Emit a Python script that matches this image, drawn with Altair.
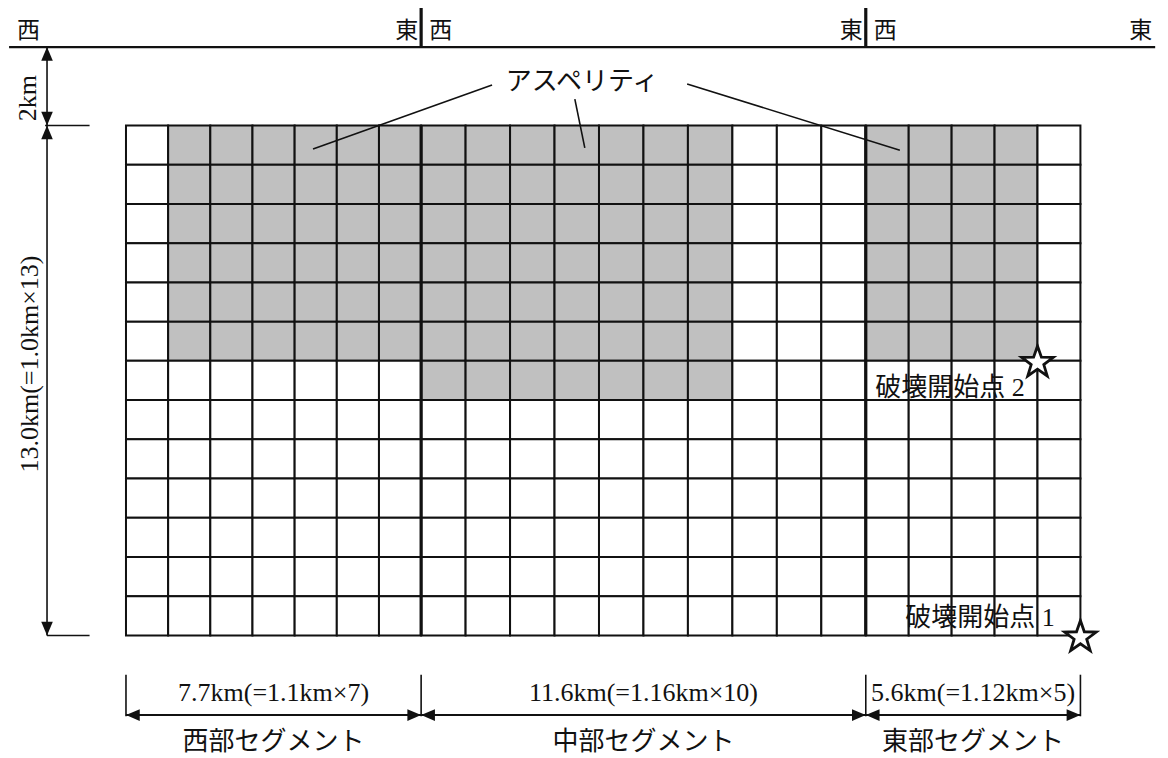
import math
import altair as alt
import pandas as pd

# ---------------- data ----------------
segment_names = ["西部セグメント", "中部セグメント", "東部セグメント"]
segment_cols = [7, 10, 5]
segment_cell_km = [1.1, 1.16, 1.12]
segment_length_labels = ["7.7km(=1.1km×7)", "11.6km(=1.16km×10)", "5.6km(=1.12km×5)"]
n_rows = 13
row_km = 1.0
top_depth_km = 2.0
asperity_col_first = [1, 0, 0]
asperity_col_last = [6, 6, 3]
asperity_rows = [6, 7, 6]
hypo_labels = ["破壊開始点 1", "破壊開始点 2"]
hypo_col_edge = [5, 4]      # column edge inside the eastern segment
hypo_row_edge = [13, 6]     # row edge from top of fault
depth_label = "13.0km(=1.0km×13)"
top_gap_label = "2km"
asperity_label = "アスペリティ"

FONT = "Liberation Serif, Noto Sans CJK JP"
INK = "#111111"

# ---------------- derived tables ----------------
bounds = [0.0]
for n, w in zip(segment_cols, segment_cell_km):
    bounds.append(round(bounds[-1] + n * w, 4))
bottom_depth = top_depth_km + n_rows * row_km

cells = []
for s, (n, w) in enumerate(zip(segment_cols, segment_cell_km)):
    for c in range(n):
        for r in range(n_rows):
            asp = asperity_col_first[s] <= c <= asperity_col_last[s] and r < asperity_rows[s]
            cells.append(dict(x=bounds[s] + c * w, x2=bounds[s] + (c + 1) * w,
                              y=top_depth_km + r * row_km, y2=top_depth_km + (r + 1) * row_km,
                              fill="#c0c0c0" if asp else "#ffffff"))
cells = pd.DataFrame(cells)

left_x = -2.06
thin_lines = pd.DataFrame([
    dict(x=-3.05, x2=26.85, y=0.0, y2=0.0, w=2.2),
    dict(x=left_x, x2=left_x, y=0.0, y2=top_depth_km, w=1.6),
    dict(x=left_x, x2=left_x, y=top_depth_km, y2=bottom_depth, w=1.6),
    dict(x=-2.11, x2=-0.95, y=top_depth_km, y2=top_depth_km, w=1.6),
    dict(x=-2.06, x2=-0.95, y=bottom_depth, y2=bottom_depth, w=1.6),
] + [
    dict(x=b, x2=b, y=16.0, y2=17.06, w=1.6) for b in bounds
] + [
    dict(x=bounds[i], x2=bounds[i + 1], y=17.03, y2=17.03, w=2.0) for i in range(3)
] + [
    dict(x=9.55, x2=4.88, y=0.97, y2=2.6, w=1.6),
    dict(x=11.71, x2=11.97, y=1.33, y2=2.57, w=1.6),
    dict(x=14.64, x2=20.19, y=0.94, y2=2.63, w=1.6),
])

thick_lines = pd.DataFrame([
    dict(x=b, x2=b, y=-1.02, y2=0.0) for b in bounds[1:3]
] + [
    dict(x=b, x2=b, y=top_depth_km, y2=bottom_depth) for b in bounds[1:3]
])

heads = [dict(x=left_x, y=0.0, a=270), dict(x=left_x, y=top_depth_km, a=90),
         dict(x=left_x, y=top_depth_km, a=270), dict(x=left_x, y=bottom_depth, a=90)]
for i in range(3):
    heads.append(dict(x=bounds[i], y=17.03, a=180))
    heads.append(dict(x=bounds[i + 1], y=17.03, a=0))
heads = pd.DataFrame(heads)

mids = [(bounds[i] + bounds[i + 1]) / 2 for i in range(3)]
texts = pd.DataFrame(
    [dict(x=m, y=16.47, t=t) for m, t in zip(mids, segment_length_labels)]
    + [dict(x=m, y=17.72, t=t) for m, t in zip(mids, segment_names)]
    + [dict(x=11.9, y=0.89, t=asperity_label),
       dict(x=21.5, y=8.69, t=hypo_labels[1]),
       dict(x=22.28, y=14.55, t=hypo_labels[0])]
)
west_labels = pd.DataFrame([dict(x=v, y=-0.41, t="西") for v in [-3.05, bounds[1], bounds[2]]])
east_labels = pd.DataFrame([dict(x=v, y=-0.41, t="東") for v in [bounds[1], bounds[2], 26.85]])
rot_texts = pd.DataFrame([dict(x=-2.56, y=1.30, t=top_gap_label),
                          dict(x=-2.50, y=8.08, t=depth_label)])

stars = pd.DataFrame([dict(x=bounds[2] + hypo_col_edge[i] * segment_cell_km[2],
                           y=top_depth_km + hypo_row_edge[i] * row_km) for i in range(2)])

# five-pointed star symbol path in the unit square
pts = []
for k in range(10):
    ang = math.radians(-90 + 36 * k)
    rad = 1.0 if k % 2 == 0 else 0.40
    pts.append(f"{rad * math.cos(ang):.3f},{rad * math.sin(ang) + 0.1:.3f}")
STAR = "M" + " L".join(pts) + " Z"

# ---------------- scales ----------------
xs = alt.Scale(domain=[-3.078, 26.976], nice=False, zero=False)
ys = alt.Scale(domain=[-0.995, 18.123], reverse=True, nice=False, zero=False)
X = lambda f: alt.X(f, type="quantitative", scale=xs, axis=None)
Y = lambda f: alt.Y(f, type="quantitative", scale=ys, axis=None)

grid = alt.Chart(cells).mark_rect(stroke=INK, strokeWidth=2).encode(
    x=X("x"), x2="x2", y=Y("y"), y2="y2", fill=alt.Fill("fill:N", scale=None))

lines = alt.Chart(thin_lines).mark_rule(color=INK).encode(
    x=X("x"), x2="x2", y=Y("y"), y2="y2", strokeWidth=alt.StrokeWidth("w:Q", scale=None))

thick = alt.Chart(thick_lines).mark_rule(color=INK, strokeWidth=3.2).encode(
    x=X("x"), y=Y("y"), y2="y2")

arrow = alt.Chart(heads).mark_point(
    shape="M0,0 L-1,-0.42 L-1,0.42 Z", filled=True, color=INK, opacity=1, size=760
).encode(x=X("x"), y=Y("y"), angle=alt.Angle("a:Q", scale=None))

txt = alt.Chart(texts).mark_text(font=FONT, fontSize=26, color=INK, baseline="middle").encode(
    x=X("x"), y=Y("y"), text="t:N")

wtxt = alt.Chart(west_labels).mark_text(font=FONT, fontSize=23, color=INK, align="left",
                                        baseline="middle", dx=8).encode(
    x=X("x"), y=Y("y"), text="t:N")
etxt = alt.Chart(east_labels).mark_text(font=FONT, fontSize=23, color=INK, align="right",
                                        baseline="middle", dx=-3).encode(
    x=X("x"), y=Y("y"), text="t:N")

rtxt = alt.Chart(rot_texts).mark_text(font=FONT, fontSize=26, color=INK, angle=270,
                                      baseline="middle").encode(
    x=X("x"), y=Y("y"), text="t:N")

star = alt.Chart(stars).mark_point(shape=STAR, filled=False, fill="white", fillOpacity=1,
                                   stroke=INK, strokeWidth=2.8, size=1100, opacity=1).encode(
    x=X("x"), y=Y("y"))

chart = alt.layer(grid, thick, lines, arrow, txt, wtxt, etxt, rtxt, star).properties(
    width=1152, height=750, padding=0, autosize=alt.AutoSizeParams(type="none")
).configure_view(stroke=None)

chart.save("out.html", embed_options={"renderer": "svg", "actions": False})
